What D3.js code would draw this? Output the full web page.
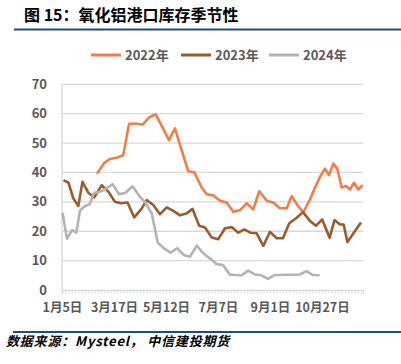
<!DOCTYPE html>
<html lang="en">
<head>
    <meta charset="UTF-8">
    <title>氧化铝港口库存季节性</title>
    <style>
        body { margin: 0; background: #fff; }
        svg { display: block; }
    </style>
</head>
<body>
</body>
<script src="https://cdn.jsdelivr.net/npm/d3@7/dist/d3.min.js" charset="utf-8"></script>
<script>
    // x is a week position on the category axis (0 = 1月5日, 8 weeks per label)
    var tickWeeks = [0, 8, 16, 24, 32, 40];
    var tickLabels = ['1月5日', '3月17日', '5月12日', '7月7日', '9月1日', '10月27日'];
    var yTicks = [0, 10, 20, 30, 40, 50, 60, 70];
    var seriesNames = ['2022年', '2023年', '2024年'];

    var weeks2022 = [5.15, 6.28, 7.15, 8.18, 9.2, 10.08, 11.15, 12.18, 13.15, 14.18, 15.2, 16.23, 17.15, 18.18,
        19.2, 20.12, 21.26, 22.03, 23.05, 24.08, 25.1, 26.12, 27.15, 28.18, 29.2, 30.12, 31.26, 32.28, 33.31,
        34.34, 35.1, 36.12, 36.89, 37.92, 38.69, 39.46, 40.23, 40.85, 41.51, 42.12, 42.8, 43.46, 44.08, 44.69,
        45.35, 46.03];
    var values2022 = [39.6, 43.3, 44.6, 45.0, 45.9, 56.6, 56.6, 56.3, 58.7, 59.8, 55.5, 51.0, 55.0, 47.6,
        40.4, 40.1, 34.9, 32.6, 32.2, 30.4, 29.8, 26.6, 27.2, 29.5, 27.4, 33.6, 30.4, 29.8, 27.8,
        27.8, 31.9, 28.5, 26.4, 30.8, 34.8, 38.5, 41.3, 39.1, 43.0, 41.3, 34.9, 35.4, 34.2, 36.5,
        34.2, 35.7];

    var weeks2023 = [0, 0.77, 1.51, 2.28, 2.92, 3.82, 4.74, 5.88, 6.89, 7.92, 8.89, 9.85, 10.89, 11.97, 12.8,
        13.82, 14.85, 15.88, 16.89, 17.92, 18.89, 19.85, 20.88, 21.77, 22.8, 23.82, 24.85, 25.88, 26.89,
        27.82, 28.74, 29.72, 30.74, 31.77, 32.8, 33.77, 34.74, 35.88, 36.85, 37.88, 38.85, 39.8, 40.95,
        41.69, 42.54, 43.1, 43.69, 44.69, 45.77];
    var values2023 = [37.4, 36.5, 31.2, 28.6, 36.8, 33.1, 31.5, 35.7, 33.5, 30.0, 29.5, 29.8, 24.7, 27.5, 30.6,
        28.9, 25.8, 28.1, 26.9, 25.4, 26.0, 27.6, 21.9, 21.3, 17.9, 17.3, 21.0, 21.4, 19.5,
        20.6, 19.5, 19.3, 15.0, 19.8, 17.6, 17.6, 22.7, 24.6, 26.5, 23.6, 21.9, 24.0, 17.8,
        23.8, 22.3, 22.3, 16.3, 19.6, 23.0];

    var weeks2024 = [-0.15, 0.54, 1.31, 1.97, 2.54, 3.31, 4.03, 4.69, 5.46, 6.38, 7.54, 8.57, 9.54, 10.62,
        11.72, 12.54, 13.57, 14.51, 15.46, 16.46, 17.49, 18.51, 19.46, 20.49, 21.23, 21.92, 22.62, 23.57,
        24.54, 25.57, 26.46, 27.42, 28.43, 29.42, 30.43, 31.46, 32.46, 33.31, 34.34, 35.35, 36.38, 37.38,
        38.38, 39.42];
    var values2024 = [26.3, 17.4, 20.4, 19.5, 27.1, 28.6, 29.2, 33.1, 33.3, 34.2, 36.0, 32.6, 33.1, 35.3,
        31.8, 30.0, 26.1, 16.1, 14.2, 12.7, 14.2, 11.9, 11.3, 15.1, 13.2, 11.7, 10.6, 8.8,
        8.5, 5.3, 5.1, 5.0, 6.6, 5.3, 5.0, 3.8, 5.1, 5.1, 5.2, 5.2, 5.3, 6.4,
        5.1, 5.0];

    var colors = ['#F47D47', '#9C5B2B', '#B3B3B3'];
    var font = '"Noto Sans CJK SC", "Noto Sans", sans-serif';

    var series = [
        {name: seriesNames[0], x: weeks2022, y: values2022, color: colors[0]},
        {name: seriesNames[1], x: weeks2023, y: values2023, color: colors[1]},
        {name: seriesNames[2], x: weeks2024, y: values2024, color: colors[2]}
    ];

    var W = 401, H = 364;
    var svg = d3.select('body')
            .append('svg')
            .attr('width', W)
            .attr('height', H);

    // header
    svg.append('text')
            .text('图 15：氧化铝港口库存季节性')
            .attr('x', 24)
            .attr('y', 21)
            .attr('font-family', font)
            .attr('font-size', '16px')
            .attr('font-weight', 700)
            .attr('fill', '#000');

    svg.append('line')
            .attr('x1', 14).attr('x2', W)
            .attr('y1', 29.5).attr('y2', 29.5)
            .attr('stroke', '#1F4E79')
            .attr('stroke-width', 2);

    // plot
    var x = d3.scaleLinear().domain([-0.23, 46.08]).range([62, 363]);
    var y = d3.scaleLinear().domain([0, 70]).range([290, 84.3]);

    var grid = svg.append('g');
    grid.selectAll('line')
            .data(yTicks.filter(function (d) { return d > 0; }))
            .enter()
            .append('line')
            .attr('x1', 62).attr('x2', 363)
            .attr('y1', function (d) { return y(d); })
            .attr('y2', function (d) { return y(d); })
            .attr('stroke', '#D9D9D9')
            .attr('stroke-width', 1.3);

    // dense category ticks under the axis
    var minor = d3.range(0, 93).map(function (i) { return -0.23 + i * 0.5; });
    var xAxis = svg.append('g')
            .attr('transform', 'translate(0,' + y(0) + ')')
            .call(d3.axisBottom(x).tickValues(minor).tickSize(4).tickFormat(''));
    xAxis.select('.domain').attr('stroke', '#D9D9D9').attr('stroke-width', 1.3);
    xAxis.selectAll('.tick line').attr('stroke', '#E3E3E3');

    svg.append('line')
            .attr('x1', 62).attr('x2', 62)
            .attr('y1', y(70)).attr('y2', y(0) + 4)
            .attr('stroke', '#D9D9D9')
            .attr('stroke-width', 1.3);

    svg.append('g').selectAll('text')
            .data(yTicks)
            .enter()
            .append('text')
            .text(function (d) { return d; })
            .attr('x', 47)
            .attr('y', function (d) { return y(d) + 4.5; })
            .attr('text-anchor', 'end')
            .attr('font-family', font)
            .attr('font-size', '13px')
            .attr('font-weight', 700)
            .attr('fill', '#595959');

    svg.append('g').selectAll('text')
            .data(tickWeeks)
            .enter()
            .append('text')
            .text(function (d, i) { return tickLabels[i]; })
            .attr('x', function (d) { return x(d) - 1; })
            .attr('y', 312)
            .attr('text-anchor', 'middle')
            .attr('font-family', font)
            .attr('font-size', '12.5px')
            .attr('font-weight', 700)
            .attr('fill', '#595959');

    var line = d3.line()
            .x(function (d) { return x(d[0]); })
            .y(function (d) { return y(d[1]); });

    svg.append('g').selectAll('path')
            .data(series)
            .enter()
            .append('path')
            .attr('d', function (s) { return line(d3.zip(s.x, s.y)); })
            .attr('fill', 'none')
            .attr('stroke', function (s) { return s.color; })
            .attr('stroke-width', 2.6)
            .attr('stroke-linejoin', 'round');

    // legend
    var legX = [91, 181, 269];
    var leg = svg.append('g').selectAll('g')
            .data(series)
            .enter()
            .append('g')
            .attr('transform', function (d, i) { return 'translate(' + legX[i] + ',55)'; });
    leg.append('line')
            .attr('x1', 0).attr('x2', 30)
            .attr('stroke', function (d) { return d.color; })
            .attr('stroke-width', 3);
    leg.append('text')
            .text(function (d) { return d.name; })
            .attr('x', 34)
            .attr('y', 4.5)
            .attr('font-family', font)
            .attr('font-size', '13px')
            .attr('font-weight', 700)
            .attr('fill', '#595959');

    // footer
    svg.append('line')
            .attr('x1', 13).attr('x2', W)
            .attr('y1', 332).attr('y2', 332)
            .attr('stroke', '#1F4E79')
            .attr('stroke-width', 2);

    svg.append('text')
            .text('数据来源：Mysteel， 中信建投期货')
            .attr('x', 6)
            .attr('y', 346)
            .attr('font-family', font)
            .attr('font-size', '13px')
            .attr('font-style', 'italic')
            .attr('font-weight', 700)
            .attr('letter-spacing', '0.8px')
            .attr('fill', '#000');
</script>
</html>
